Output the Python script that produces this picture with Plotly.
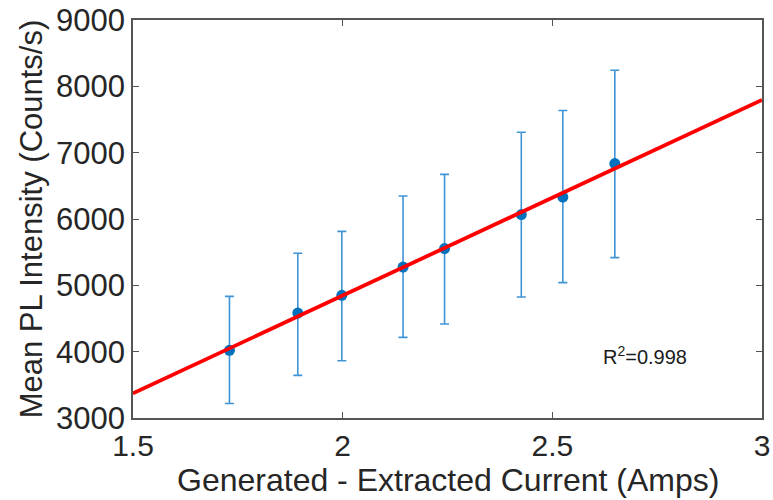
import numpy as np
import plotly.graph_objects as go

# Data
current = [1.730, 1.893, 1.998, 2.144, 2.243, 2.426, 2.525, 2.649]
intensity = [4020, 4582, 4849, 5276, 5554, 6066, 6330, 6836]
err_up = [814, 901, 965, 1071, 1119, 1242, 1305, 1407]
err_down = [801, 940, 985, 1060, 1138, 1242, 1289, 1418]
r2_label = "R<sup>2</sup>=0.998"
x_title = "Generated - Extracted Current (Amps)"
y_title = "Mean PL Intensity (Counts/s)"
x_ticks = [1.5, 2, 2.5, 3]
x_tick_text = ["1.5", "2", "2.5", "3"]
y_ticks = [3000, 4000, 5000, 6000, 7000, 8000, 9000]

slope, intercept = np.polyfit(current, intensity, 1)
fit_x = np.array([1.5, 3.0])
fit_y = slope * fit_x + intercept

font = "Liberation Sans, Arial, Helvetica, sans-serif"
axcol = "#555555"
txtcol = "#262626"

fig = go.Figure()
fig.add_trace(go.Scatter(
    x=current, y=intensity, mode="markers",
    marker=dict(color="#0072BD", size=11),
    error_y=dict(type="data", symmetric=False, array=err_up, arrayminus=err_down,
                 color="#3f94d6", thickness=1.6, width=4.5),
    showlegend=False, cliponaxis=False,
))
fig.add_trace(go.Scatter(
    x=fit_x, y=fit_y, mode="lines",
    line=dict(color="#ff0000", width=3.8),
    showlegend=False,
))
fig.add_annotation(x=2.722, y=3947, text=r2_label, showarrow=False,
                   font=dict(family=font, size=20, color="#1a1a1a"))
fig.add_annotation(x=0.5, y=0, xref="paper", yref="paper", text=x_title,
                   showarrow=False, yanchor="middle", yshift=-62,
                   font=dict(family=font, size=32, color=txtcol))

fig.update_layout(
    width=773, height=500,
    margin=dict(l=133, r=11, t=20, b=82),
    paper_bgcolor="white", plot_bgcolor="white",
    font=dict(family=font, color=txtcol),
)
fig.update_xaxes(
    range=[1.5, 3], tickvals=x_ticks, ticktext=x_tick_text, automargin=False,
    showline=True, mirror="ticks", linecolor=axcol, linewidth=1.5,
    ticks="inside", ticklen=6, tickcolor=axcol, tickwidth=1.2,
    showgrid=False, zeroline=False,
    tickfont=dict(size=30, color=txtcol),
)
fig.update_yaxes(
    range=[3000, 9000], tickvals=y_ticks, automargin=False,
    showline=True, mirror="ticks", linecolor=axcol, linewidth=1.5,
    ticks="inside", ticklen=6, tickcolor=axcol, tickwidth=1.2,
    showgrid=False, zeroline=False,
    tickfont=dict(size=31, color=txtcol),
    title=dict(text=y_title, font=dict(size=31, color=txtcol), standoff=4),
)

fig.write_html("out.html")
